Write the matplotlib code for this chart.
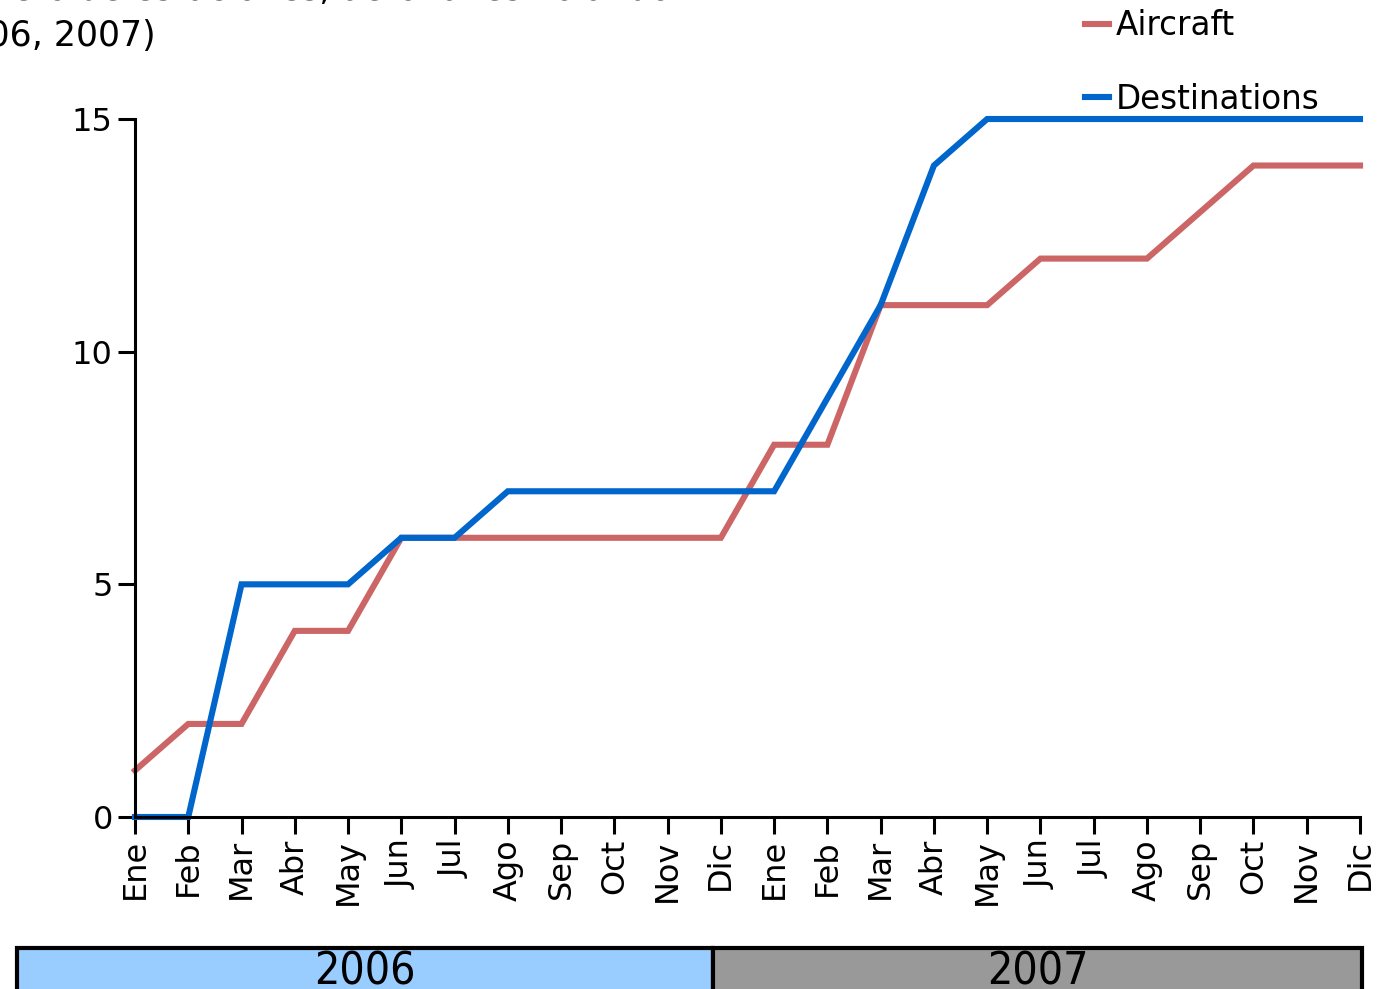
import matplotlib
matplotlib.use("Agg")
import matplotlib.pyplot as plt
from matplotlib.patches import Rectangle

# Datos mensuales (ene 2006 - dic 2007)
meses = ["Ene", "Feb", "Mar", "Abr", "May", "Jun", "Jul", "Ago", "Sep", "Oct", "Nov", "Dic"] * 2
aircraft = [1, 2, 2, 4, 4, 6, 6, 6, 6, 6, 6, 6, 8, 8, 11, 11, 11, 12, 12, 12, 13, 14, 14, 14]
destinations = [0, 0, 5, 5, 5, 6, 6, 7, 7, 7, 7, 7, 7, 9, 11, 14, 15, 15, 15, 15, 15, 15, 15, 15]
anios = ["2006", "2007"]
colores_anios = ["#99ccff", "#999999"]

W, H = 1381, 989
FS = 23

fig = plt.figure(figsize=(W / 100, H / 100), dpi=100)
ax = fig.add_axes([135 / W, 1 - 817 / H, (1360 - 135) / W, (817 - 119) / H])

x = list(range(len(meses)))
ax.plot(x, aircraft, color="#cc6666", lw=4.4, label="Aircraft", clip_on=False, solid_joinstyle="miter")
ax.plot(x, destinations, color="#0066cc", lw=4.4, label="Destinations", clip_on=False, solid_joinstyle="miter")

ax.set_xlim(0, len(meses) - 1)
ax.set_ylim(0, 15)
ax.set_xticks(x)
ax.set_xticklabels(meses, rotation=90, fontsize=FS)
ax.set_yticks([0, 5, 10, 15])
ax.tick_params(axis="y", labelsize=FS, length=12, width=2.2, pad=4)
ax.tick_params(axis="x", length=12, width=2.2, pad=4)
for s in ["top", "right"]:
    ax.spines[s].set_visible(False)
for s in ["left", "bottom"]:
    ax.spines[s].set_linewidth(2.2)

ax.legend(loc="upper left", bbox_to_anchor=(1085 / W, 1 - 9 / H), bbox_transform=fig.transFigure,
          frameon=False, fontsize=23.5, handlelength=0.75, handletextpad=0.2,
          labelspacing=1.25, borderpad=0, borderaxespad=0)

fig.text(-70 / W, 1 - 46 / H, "Número de estaciones, aeronaves volando\n(2006, 2007)",
         fontsize=25, ha="left", va="baseline", linespacing=1.45)

# Barra de años
bordes = [17, 713, 1362]
for i, anio in enumerate(anios):
    x0, x1 = bordes[i], bordes[i + 1]
    fig.patches.append(Rectangle((x0 / W, -10 / H), (x1 - x0) / W, (989 - 948 + 10) / H,
                                 transform=fig.transFigure, facecolor=colores_anios[i],
                                 edgecolor="black", lw=3))
    fig.text((x0 + x1) / 2 / W, 1 - 972 / H, anio, fontsize=32, fontstretch="condensed",
             ha="center", va="center")

fig.savefig("out.png", dpi=100)
